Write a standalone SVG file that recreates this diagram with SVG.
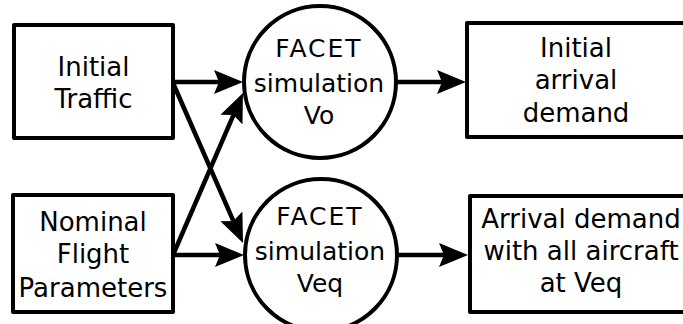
<svg xmlns="http://www.w3.org/2000/svg" width="683" height="324" viewBox="0 0 683 324">
<style>
.box{fill:#fff;stroke:#000;stroke-width:4;stroke-linejoin:round}
.circ{fill:#fff;stroke:#000;stroke-width:4}
.t{font-family:"DejaVu Sans",sans-serif;font-size:26px;fill:#000;text-anchor:middle}
.tc{font-family:"DejaVu Sans",sans-serif;font-size:25px;fill:#000;text-anchor:middle}
.conn{fill:none;stroke:#000;stroke-width:4.5;marker-end:url(#ah)}
</style>
<defs>
<marker id="ah" markerUnits="userSpaceOnUse" markerWidth="32" markerHeight="28" viewBox="0 -14 32 28" refX="18" refY="0" orient="auto">
<path d="M0,-12 L29,0 L0,12 L5,0 Z" fill="#000"/>
</marker>
</defs>
<g id="connectors">
<line class="conn" x1="173" y1="82" x2="232" y2="82"/>
<line class="conn" x1="397" y1="82" x2="455" y2="82"/>
<line class="conn" x1="173" y1="255" x2="233" y2="255"/>
<line class="conn" x1="397" y1="255" x2="457" y2="255"/>
<line class="conn" x1="173" y1="83" x2="238.6" y2="232.9"/>
<line class="conn" x1="173" y1="255" x2="238.6" y2="103.1"/>
</g>
<g id="initial-traffic">
<rect class="box" x="14" y="25" width="159" height="113"/>
<text class="t" x="93.5" y="76">Initial</text>
<text class="t" x="93.5" y="108">Traffic</text>
</g>
<g id="nominal-flight-parameters">
<rect class="box" x="13" y="195" width="160" height="117"/>
<text class="t" x="93" y="231">Nominal</text>
<text class="t" x="93" y="263">Flight</text>
<text class="t" x="93" y="297">Parameters</text>
</g>
<g id="facet-vo">
<circle class="circ" cx="320" cy="82" r="76"/>
<text class="tc" x="319" y="57" letter-spacing="2">FACET</text>
<text class="tc" x="319" y="92">simulation</text>
<text class="tc" x="319" y="124">Vo</text>
</g>
<g id="facet-veq">
<circle class="circ" cx="321" cy="255" r="76"/>
<text class="tc" x="320" y="225" letter-spacing="2">FACET</text>
<text class="tc" x="320" y="260">simulation</text>
<text class="tc" x="320" y="292">Veq</text>
</g>
<g id="initial-arrival-demand">
<rect class="box" x="467" y="23" width="219" height="114"/>
<text class="t" x="576" y="57">Initial</text>
<text class="t" x="576" y="89">arrival</text>
<text class="t" x="576" y="122">demand</text>
</g>
<g id="arrival-demand-veq">
<rect class="box" x="470" y="196" width="222" height="116"/>
<text class="t" x="581" y="228">Arrival demand</text>
<text class="t" x="581" y="260">with all aircraft</text>
<text class="t" x="581" y="292">at Veq</text>
</g>
</svg>
